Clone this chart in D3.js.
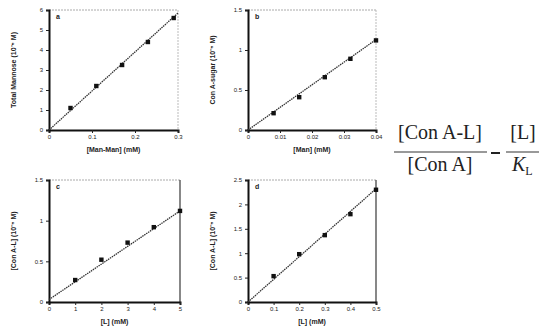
<!DOCTYPE html>
<html><head><meta charset="utf-8">
<script src="https://cdn.jsdelivr.net/npm/d3@7"></script>
<style>
body{margin:0;background:#fff;}
svg{display:block;}
.tk text{font-family:Arial,"Liberation Sans",sans-serif;font-size:6px;fill:#222;}
</style></head>
<body><svg id="c" width="539" height="330"></svg>
<script>
// ---- data ----
const panelLetters = ["a", "b", "c", "d"];
const xLabels = ["[Man-Man] (mM)", "[Man] (mM)", "[L] (mM)", "[L] (mM)"];
const yLabels = ["Total Mannose (10\u207B\u2075 M)", "Con A-sugar (10\u207B\u2075 M)", "[Con A-L] (10\u207B\u2075 M)", "[Con A-L] (10\u207B\u2075 M)"];

const aX = [0.05, 0.11, 0.17, 0.23, 0.29];
const aY = [1.1, 2.2, 3.25, 4.4, 5.6];
const aFit = [[0, 0], [0.3, 5.85]];
const aXTicks = [0, 0.1, 0.2, 0.3];
const aYTicks = [0, 1, 2, 3, 4, 5, 6];

const bX = [0.008, 0.016, 0.024, 0.032, 0.04];
const bY = [0.21, 0.41, 0.66, 0.89, 1.12];
const bFit = [[0, 0], [0.04, 1.13]];
const bXTicks = [0, 0.01, 0.02, 0.03, 0.04];
const bYTicks = [0, 0.5, 1, 1.5];

const cX = [1, 2, 3, 4, 5];
const cY = [0.27, 0.52, 0.73, 0.92, 1.12];
const cFit = [[0, 0.03], [5, 1.12]];
const cXTicks = [0, 1, 2, 3, 4, 5];
const cYTicks = [0, 0.5, 1, 1.5];

const dX = [0.1, 0.2, 0.3, 0.4, 0.5];
const dY = [0.53, 0.98, 1.37, 1.8, 2.3];
const dFit = [[0, 0], [0.5, 2.32]];
const dXTicks = [0, 0.1, 0.2, 0.3, 0.4, 0.5];
const dYTicks = [0, 0.5, 1, 1.5, 2, 2.5];

const panels = [
  {x: aX, y: aY, fit: aFit, xt: aXTicks, yt: aYTicks, xd: [0, 0.3], yd: [0, 6], box: [49, 10, 178, 130], rightDark: false},
  {x: bX, y: bY, fit: bFit, xt: bXTicks, yt: bYTicks, xd: [0, 0.04], yd: [0, 1.5], box: [248, 10, 376, 130], rightDark: false},
  {x: cX, y: cY, fit: cFit, xt: cXTicks, yt: cYTicks, xd: [0, 5], yd: [0, 1.5], box: [49, 180, 180, 302], rightDark: true},
  {x: dX, y: dY, fit: dFit, xt: dXTicks, yt: dYTicks, xd: [0, 0.5], yd: [0, 2.5], box: [248, 180, 376, 302], rightDark: true}
];

const svg = d3.select("#c");
const fmt = v => (v === 0 ? "0" : String(v));

panels.forEach((p, i) => {
  const [x0, y0, x1, y1] = p.box;
  const xs = d3.scaleLinear().domain(p.xd).range([x0, x1]);
  const ys = d3.scaleLinear().domain(p.yd).range([y1, y0]);
  const g = svg.append("g");

  // top / right frame
  g.append("line").attr("x1", x0).attr("x2", x1).attr("y1", y0).attr("y2", y0)
    .attr("stroke", "#aaa").attr("stroke-width", 1).attr("stroke-dasharray", "2,1");
  g.append("line").attr("x1", x1).attr("x2", x1).attr("y1", y0).attr("y2", y1)
    .attr("stroke", p.rightDark ? "#555" : "#bbb").attr("stroke-width", p.rightDark ? 1.4 : 1)
    .attr("stroke-dasharray", p.rightDark ? null : "2,1");

  const ax = g.append("g").attr("class", "tk").attr("transform", `translate(0,${y1})`)
    .call(d3.axisBottom(xs).tickValues(p.xt).tickSize(3).tickPadding(2).tickFormat(fmt));
  const ay = g.append("g").attr("class", "tk").attr("transform", `translate(${x0},0)`)
    .call(d3.axisLeft(ys).tickValues(p.yt).tickSize(3).tickPadding(3).tickFormat(fmt));
  [ax, ay].forEach(a => {
    a.select(".domain").attr("stroke", "#111").attr("stroke-width", 2);
    a.selectAll(".tick line").attr("stroke", "#222");
  });

  // fit line
  g.append("line")
    .attr("x1", xs(p.fit[0][0])).attr("y1", ys(p.fit[0][1]))
    .attr("x2", xs(p.fit[1][0])).attr("y2", ys(p.fit[1][1]))
    .attr("stroke", "#333").attr("stroke-width", 1.3).attr("stroke-dasharray", "1.5,0.8");

  // points
  g.selectAll("rect.pt").data(p.x.map((v, k) => [v, p.y[k]])).enter().append("rect")
    .attr("x", d => xs(d[0]) - 2.2).attr("y", d => ys(d[1]) - 2.2)
    .attr("width", 4.4).attr("height", 4.4).attr("fill", "#111");

  // panel letter
  g.append("text").attr("x", x0 + 7).attr("y", y0 + 9).text(panelLetters[i])
    .attr("font-family", "Arial,sans-serif").attr("font-size", 7).attr("font-weight", "bold").attr("fill", "#222");

  // axis labels
  g.append("text").attr("x", (x0 + x1) / 2).attr("y", y1 + 22).attr("text-anchor", "middle")
    .attr("font-family", "Arial,sans-serif").attr("font-size", 7).attr("font-weight", "bold").attr("fill", "#222")
    .text(xLabels[i]);
  g.append("text").attr("transform", `translate(${x0 - 33},${(y0 + y1) / 2}) rotate(-90)`)
    .attr("text-anchor", "middle")
    .attr("font-family", "Arial,sans-serif").attr("font-size", 7).attr("font-weight", "bold").attr("fill", "#222")
    .text(yLabels[i]);
});

// ---- equation ----
const eq = svg.append("g").attr("font-family", "'Liberation Serif','Times New Roman',serif").attr("fill", "#222");
eq.append("text").attr("x", 440).attr("y", 139).attr("text-anchor", "middle").attr("font-size", 20).text("[Con A-L]");
eq.append("line").attr("x1", 394).attr("x2", 487).attr("y1", 152).attr("y2", 152).attr("stroke", "#999").attr("stroke-width", 2);
eq.append("text").attr("x", 440).attr("y", 171).attr("text-anchor", "middle").attr("font-size", 20).text("[Con A]");
eq.append("line").attr("x1", 491).attr("x2", 500).attr("y1", 153).attr("y2", 153).attr("stroke", "#222").attr("stroke-width", 2);
eq.append("text").attr("x", 523).attr("y", 139).attr("text-anchor", "middle").attr("font-size", 20).text("[L]");
eq.append("line").attr("x1", 506).attr("x2", 539).attr("y1", 152).attr("y2", 152).attr("stroke", "#999").attr("stroke-width", 2);
const kt = eq.append("text").attr("x", 512).attr("y", 171).attr("font-size", 20);
kt.append("tspan").attr("font-style", "italic").text("K");
kt.append("tspan").attr("font-size", 12).attr("dy", 4).text("L");
</script></body></html>
